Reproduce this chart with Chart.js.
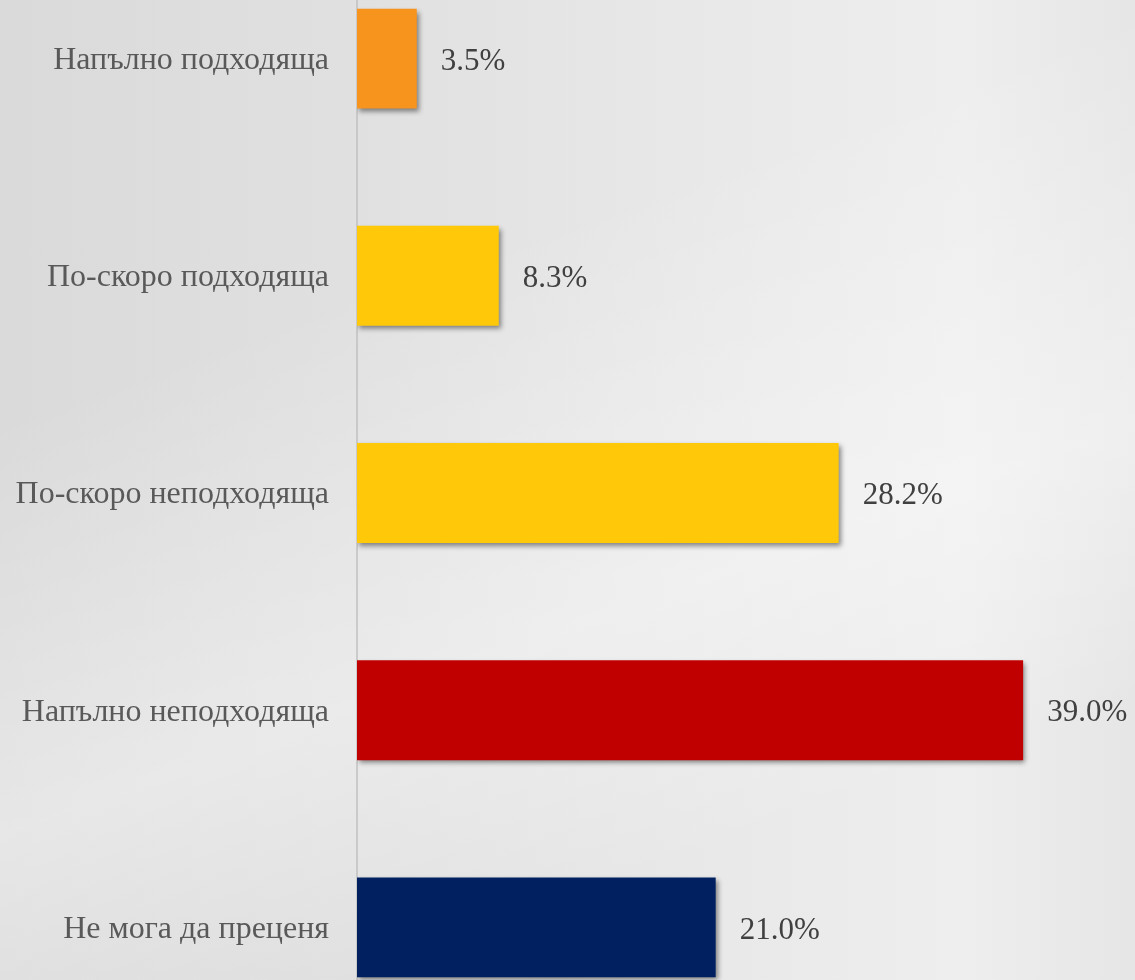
<!DOCTYPE html>
<html>
<head>
<meta charset="utf-8">
<script src="https://cdn.jsdelivr.net/npm/chart.js@4"></script>
<style>
  html, body { margin: 0; padding: 0; width: 1135px; height: 980px; overflow: hidden; }
  body {
    background:
      linear-gradient(160deg, rgba(255,255,255,0) 30%, rgba(255,255,255,0.35) 60%, rgba(255,255,255,0) 80%),
      linear-gradient(90deg, #dadada 0%, #e0e0e0 30%, #e8e8e8 60%, #eeeeee 85%, #e6e6e6 100%);
    position: relative;
  }
  #barchart { position: absolute; left: 0; top: -50px; }
</style>
</head>
<body>
<canvas id="barchart" width="1135" height="1086"></canvas>
<script>
const categories = ['Напълно подходяща', 'По-скоро подходяща', 'По-скоро неподходяща', 'Напълно неподходяща', 'Не мога да преценя'];
const values = [3.5, 8.3, 28.2, 39.0, 21.0];
const barColors = ['#f7941d', '#ffc90a', '#ffc90a', '#c00000', '#002060'];

// drop shadow under the bars
const barShadow = {
  id: 'barShadow',
  beforeDatasetsDraw(chart) {
    const c = chart.ctx;
    c.save();
    c.shadowColor = 'rgba(0, 0, 0, 0.45)';
    c.shadowBlur = 5;
    c.shadowOffsetX = 2;
    c.shadowOffsetY = 3;
  },
  afterDatasetsDraw(chart) {
    chart.ctx.restore();
  }
};

// value labels to the right of each bar
const valueLabels = {
  id: 'valueLabels',
  afterDatasetsDraw(chart) {
    const c = chart.ctx;
    const meta = chart.getDatasetMeta(0);
    c.save();
    c.font = '31px "Liberation Serif", "Times New Roman", serif';
    c.fillStyle = '#404040';
    c.textAlign = 'left';
    c.textBaseline = 'middle';
    meta.data.forEach((bar, i) => {
      c.fillText(values[i].toFixed(1) + '%', bar.x + 24, bar.y + 3);
    });
    c.restore();
  }
};

new Chart(document.getElementById('barchart').getContext('2d'), {
  type: 'bar',
  data: {
    labels: categories,
    datasets: [{
      data: values,
      backgroundColor: barColors,
      borderWidth: 0,
      categoryPercentage: 1,
      barPercentage: 0.46
    }]
  },
  options: {
    indexAxis: 'y',
    responsive: false,
    animation: false,
    layout: { padding: 0 },
    plugins: {
      legend: { display: false },
      tooltip: { enabled: false }
    },
    scales: {
      x: {
        min: 0,
        max: 45.55,
        display: false
      },
      y: {
        afterFit(scale) {
          scale.width = 357;
          scale.paddingTop = 0;
          scale.paddingBottom = 0;
        },
        grid: { display: false, drawTicks: false },
        border: { display: true, color: 'rgba(190,190,190,0.7)', width: 2 },
        ticks: {
          color: '#595959',
          padding: 28,
          labelOffset: 2,
          font: { family: '"Liberation Serif", "Times New Roman", serif', size: 32 }
        }
      }
    }
  },
  plugins: [barShadow, valueLabels]
});
</script>
</body>
</html>
